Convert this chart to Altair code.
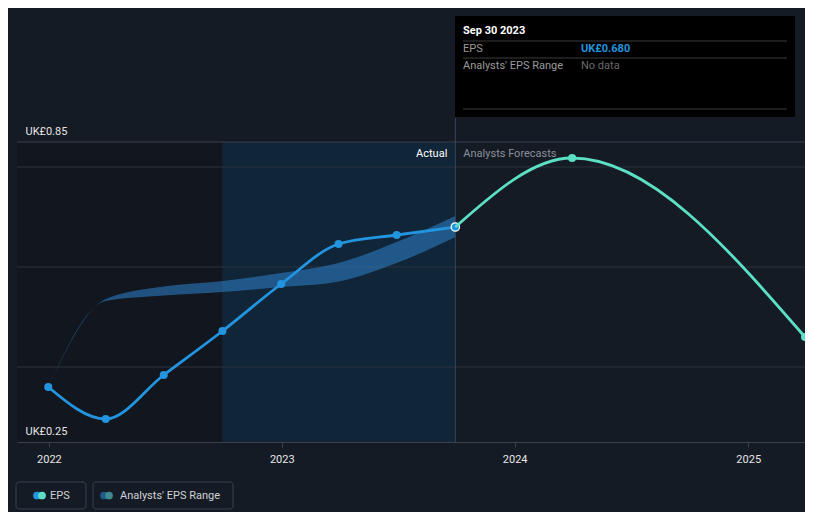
import altair as alt
import pandas as pd

# ---- data ----
actual_dates = ["2021-12-31", "2022-03-31", "2022-06-30", "2022-09-30",
                "2022-12-31", "2023-03-31", "2023-06-30", "2023-09-30"]
actual_eps = [0.36, 0.296, 0.384, 0.472, 0.566, 0.646, 0.664, 0.68]

forecast_dates = ["2023-09-30", "2024-03-31", "2025-03-31"]
forecast_eps = [0.68, 0.818, 0.46]

range_dates = ["2021-12-31", "2022-03-31", "2022-06-30", "2022-09-30",
               "2022-12-31", "2023-03-31", "2023-06-30", "2023-09-30"]
range_low = [0.36, 0.532, 0.543, 0.55, 0.56, 0.571, 0.608, 0.66]
range_high = [0.36, 0.536, 0.561, 0.572, 0.588, 0.608, 0.65, 0.702]

x_domain = ["2021-11-12", "2025-03-31"]
y_domain = [0.25, 0.85]
y_grid = [0.4, 0.6, 0.8]
y_top = [0.85]
y_labels = [0.25, 0.85]
year_ticks = ["2022-01-01", "2023-01-01", "2024-01-01", "2025-01-01"]

past_start, past_end = "2021-11-12", "2022-09-30"
recent_start, recent_end = "2022-09-30", "2023-09-30"
today = "2023-09-30"

BG = "#151b25"
FONT = "Roboto"

actual_df = pd.DataFrame({"date": actual_dates, "eps": actual_eps})
forecast_df = pd.DataFrame({"date": forecast_dates, "eps": forecast_eps})
range_df = pd.DataFrame({"date": range_dates, "low": range_low, "high": range_high})
regions_df = pd.DataFrame({"date": [past_start, recent_start],
                           "end": [past_end, recent_end],
                           "kind": ["past", "recent"]})
grid_df = pd.DataFrame({"eps": y_grid})
top_df = pd.DataFrame({"eps": y_top})
today_df = pd.DataFrame({"date": [today]})
one = pd.DataFrame({"a": [0]})

x_axis = alt.Axis(values=year_ticks, format="%Y", grid=False,
                  domainColor="#3b414c", tickColor="#3b414c", tickSize=5,
                  labelColor="#e6e6e6", labelFontSize=11, labelFont=FONT,
                  labelPadding=6, labelFlush=False, labelOverlap=False, zindex=1)
y_axis = alt.Axis(values=y_labels, grid=False,
                  domain=False, ticks=False,
                  labelExpr="'UK£' + format(datum.value, '.2f')",
                  labelAlign="left", labelBaseline="bottom",
                  labelPadding=-8, labelOffset=-6,
                  labelFlush=False, labelOverlap=False, labelBound=False,
                  labelColor="#e6e6e6", labelFontSize=11, labelFont=FONT, zindex=1)
x_scale = alt.Scale(domain=x_domain)
y_scale = alt.Scale(domain=y_domain, nice=False, zero=False)

X = alt.X("date:T", title=None, scale=x_scale, axis=x_axis)
Y = alt.Y("eps:Q", title=None, scale=y_scale, axis=y_axis)

regions = alt.Chart(regions_df).mark_rect().encode(
    x=X, x2="end:T",
    y=alt.value(0), y2=alt.value(300),
    color=alt.Color("kind:N", scale=alt.Scale(domain=["past", "recent"],
                                              range=["#12161e", "#112538"]), legend=None),
)

grid = alt.Chart(grid_df).mark_rule(color="#2c323d", strokeWidth=1).encode(
    y=Y, x=alt.value(0), x2=alt.value(788))
top_line = alt.Chart(top_df).mark_rule(color="#3b414c", strokeWidth=1).encode(
    y=Y, x=alt.value(0), x2=alt.value(788))

band = alt.Chart(range_df).mark_area(interpolate="monotone", color="#2b7cc0", opacity=0.6).encode(
    x=X,
    y=alt.Y("low:Q", title=None, scale=y_scale, axis=y_axis),
    y2="high:Q",
)

today_rule = alt.Chart(today_df).mark_rule(color="#34475a", strokeWidth=1).encode(
    x=X, y=alt.value(-24), y2=alt.value(300),
)

actual_line = alt.Chart(actual_df).mark_line(interpolate="monotone", color="#2394df", strokeWidth=2.8).encode(x=X, y=Y)
actual_pts = alt.Chart(actual_df.iloc[:-1]).mark_circle(color="#2394df", size=65, opacity=1).encode(x=X, y=Y)
last_pt = alt.Chart(actual_df.iloc[-1:]).mark_point(filled=True, fill="#2394df", stroke="#ffffff",
                                                     strokeWidth=1.3, size=70, opacity=1).encode(x=X, y=Y)

fc_line = alt.Chart(forecast_df).mark_line(interpolate="monotone", color="#5be0c6", strokeWidth=2.8, clip=True).encode(x=X, y=Y)
fc_pts = alt.Chart(forecast_df.iloc[1:]).mark_circle(color="#5be0c6", size=65, opacity=1, clip=True).encode(x=X, y=Y)

lbl_actual = alt.Chart(today_df).mark_text(text="Actual", align="right", baseline="middle", dx=-8,
                                           color="#ffffff", fontSize=11, font=FONT).encode(
    x=X, y=alt.value(12))
lbl_fc = alt.Chart(today_df).mark_text(text="Analysts Forecasts", align="left", baseline="middle", dx=8,
                                       color="#8a8f98", fontSize=11, font=FONT).encode(
    x=X, y=alt.value(12))

# tooltip box
tip_box = alt.Chart(one).mark_rect(color="#000000").encode(
    x=alt.value(438), x2=alt.value(778), y=alt.value(-126), y2=alt.value(-25))
tip_lines = [alt.Chart(one).mark_rule(color="#3a3a3a").encode(
    x=alt.value(446), x2=alt.value(770), y=alt.value(v)) for v in (-101, -84, -33)]
tip_title = alt.Chart(one).mark_text(text="Sep 30 2023", align="left", baseline="middle",
                                     color="#ffffff", fontSize=11, fontWeight="bold", font=FONT).encode(
    x=alt.value(446), y=alt.value(-111))
tip_eps = alt.Chart(one).mark_text(text="EPS", align="left", baseline="middle",
                                   color="#9a9a9a", fontSize=11, font=FONT).encode(
    x=alt.value(446), y=alt.value(-93))
tip_eps_v = alt.Chart(one).mark_text(text="UK£0.680", align="left", baseline="middle",
                                     color="#2394df", fontSize=11, fontWeight="bold", font=FONT).encode(
    x=alt.value(564), y=alt.value(-93))
tip_rng = alt.Chart(one).mark_text(text="Analysts' EPS Range", align="left", baseline="middle",
                                   color="#9a9a9a", fontSize=11, font=FONT).encode(
    x=alt.value(446), y=alt.value(-76))
tip_rng_v = alt.Chart(one).mark_text(text="No data", align="left", baseline="middle",
                                     color="#6a6a6a", fontSize=11, font=FONT).encode(
    x=alt.value(564), y=alt.value(-76))

# legend
leg_box1 = alt.Chart(one).mark_rect(fill=BG, stroke="#3b414c", strokeWidth=1, cornerRadius=3).encode(
    x=alt.value(-1), x2=alt.value(69), y=alt.value(340), y2=alt.value(367))
leg_box2 = alt.Chart(one).mark_rect(fill=BG, stroke="#3b414c", strokeWidth=1, cornerRadius=3).encode(
    x=alt.value(76), x2=alt.value(216), y=alt.value(340), y2=alt.value(367))
leg_d1 = alt.Chart(one).mark_circle(color="#2394df", size=60, opacity=1).encode(x=alt.value(20), y=alt.value(353.5))
leg_d2 = alt.Chart(one).mark_circle(color="#5be0c6", size=60, opacity=1).encode(x=alt.value(25), y=alt.value(353.5))
leg_d3 = alt.Chart(one).mark_circle(color="#1f5a8a", size=60, opacity=1).encode(x=alt.value(87), y=alt.value(353.5))
leg_d4 = alt.Chart(one).mark_circle(color="#3f8a8c", size=60, opacity=1).encode(x=alt.value(92), y=alt.value(353.5))
leg_t1 = alt.Chart(one).mark_text(text="EPS", align="left", baseline="middle",
                                  color="#cfd2d6", fontSize=11, font=FONT).encode(x=alt.value(33), y=alt.value(354))
leg_t2 = alt.Chart(one).mark_text(text="Analysts' EPS Range", align="left", baseline="middle",
                                  color="#cfd2d6", fontSize=11, font=FONT).encode(x=alt.value(103), y=alt.value(354))

chart = alt.layer(
    regions, grid, top_line, band, today_rule, actual_line, actual_pts, last_pt, fc_line, fc_pts,
    lbl_actual, lbl_fc, tip_box, *tip_lines, tip_title, tip_eps, tip_eps_v, tip_rng, tip_rng_v,
    leg_box1, leg_box2, leg_d1, leg_d2, leg_d3, leg_d4, leg_t1, leg_t2,
).resolve_scale(color="independent").properties(
    width=788, height=300,
    background=BG,
    padding={"left": 9, "top": 134, "right": 0, "bottom": 70},
    autosize=alt.AutoSizeParams(type="none"),
).configure_view(stroke=None)

chart.save("out.html", embed_options={"renderer": "svg", "actions": False})
